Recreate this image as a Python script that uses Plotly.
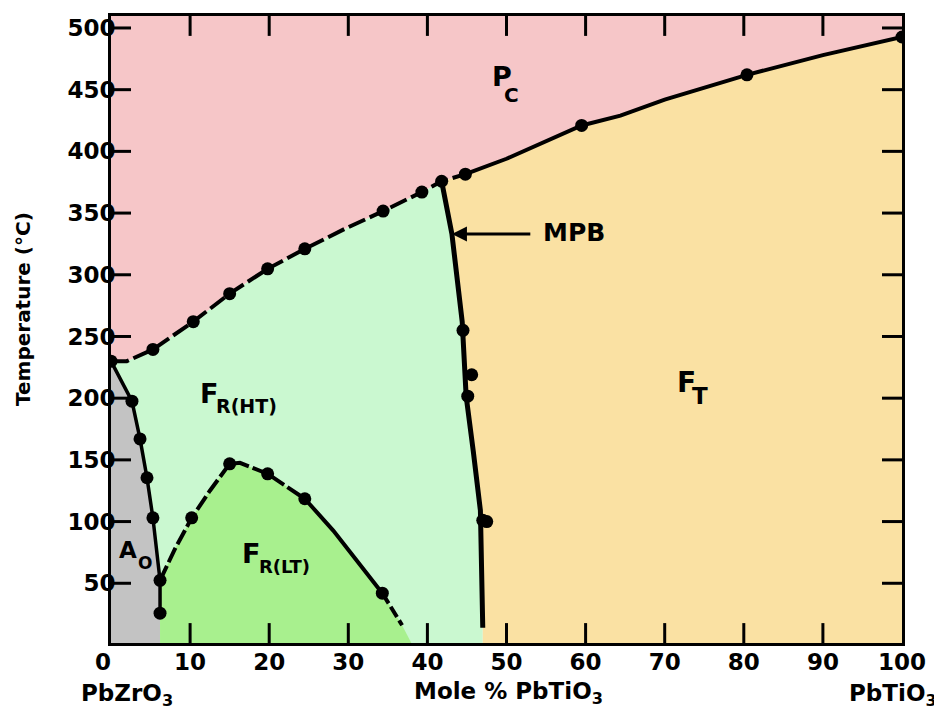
import plotly.graph_objects as go

# ---------------- data (mole % PbTiO3, temperature in °C) ----------------
# Curie line (paraelectric cubic boundary)
curie_x = [0, 2.0, 5.3, 10.4, 15.0, 19.8, 24.5, 29.5, 34.4, 39.3, 41.8, 44.8, 50.0, 59.5, 64.4, 70.0, 80.4, 90.0, 100]
curie_t = [230, 230, 239.5, 262, 284.7, 304.8, 321, 337, 351.6, 367, 375.8, 381.5, 394, 421, 429, 442, 462, 478, 492.7]
# Antiferroelectric orthorhombic boundary
ao_x = [0, 2.65, 3.67, 4.55, 5.3, 5.8, 6.2, 6.2, 6.2]
ao_t = [230, 197.6, 167, 135.5, 103, 76.6, 52.4, 25.8, 0]
# Low-temperature rhombohedral boundary
lt_x = [6.2, 8.1, 10.2, 12.5, 15.0, 16.3, 19.8, 24.5, 28.1, 34.3, 36.8, 38.1]
lt_t = [52.4, 78, 103, 125, 146.8, 147.6, 138.7, 118.5, 92.7, 42, 16, 0]
# Morphotropic phase boundary
mpb_x = [41.8, 43.1, 44.4, 44.9, 45.8, 46.7, 47.0, 47.0]
mpb_t = [375.8, 333, 262, 201.6, 157, 109, 14, 0]

# measured points
curie_pts_x = [0, 5.3, 10.4, 15.0, 19.8, 24.5, 34.4, 39.3, 41.8, 44.8, 59.5, 80.4, 100]
curie_pts_t = [230, 239.5, 262, 284.7, 304.8, 321, 351.6, 367, 375.8, 381.5, 421, 462, 492.7]
ao_pts_x = [2.65, 3.67, 4.55, 5.3, 6.2, 6.2]
ao_pts_t = [197.6, 167, 135.5, 103, 52.4, 25.8]
lt_pts_x = [10.2, 15.0, 19.8, 24.5, 34.3]
lt_pts_t = [103, 146.8, 138.7, 118.5, 42]
mpb_pts_x = [44.5, 45.6, 45.1, 47.0, 47.5]
mpb_pts_t = [255, 219, 201.6, 101, 100]

x_ticks = [0, 10, 20, 30, 40, 50, 60, 70, 80, 90, 100]
x_ticktext = ["0\u00a0\u00a0", "10", "20", "30", "40", "50", "60", "70", "80", "90", "100"]
y_ticks = [50, 100, 150, 200, 250, 300, 350, 400, 450, 500]

# ---------------- style ----------------
X_RANGE = [0, 100]
Y_RANGE = [1.6, 509.7]
TOP = 530
PINK = "#F6C6C8"
LGREEN = "#CAF8D0"
GREEN = "#A8F08E"
GRAY = "#C3C3C3"
TAN = "#FAE1A3"
FONT = "DejaVu Sans"
W, H = 934, 701
ML, MR, MT, MB = 103, 40, 5, 66
PW, PH = W - ML - MR, H - MT - MB
TICK = 20  # px, inward tick length

fig = go.Figure()

def poly(xs, ts, color):
    fig.add_trace(go.Scatter(x=xs, y=ts, mode="lines", fill="toself", fillcolor=color,
                             line=dict(width=0, color=color), hoverinfo="skip", showlegend=False))

# regions
poly(curie_x[:11] + mpb_x[1:] + [0], curie_t[:11] + mpb_t[1:] + [0], LGREEN)        # F_R(HT)
poly(ao_x + [0], ao_t + [0], GRAY)                                                     # A_O
poly(lt_x + [ao_x[-1]], lt_t + [0], GREEN)                                             # F_R(LT)
poly(curie_x + [100, 0], curie_t + [TOP, TOP], PINK)                                  # P_C
poly(curie_x[10:] + [100] + mpb_x[::-1], curie_t[10:] + [0] + mpb_t[::-1], TAN)       # F_T

def line(xs, ts, width=4, dash="solid"):
    fig.add_trace(go.Scatter(x=xs, y=ts, mode="lines", line=dict(color="black", width=width, dash=dash),
                             hoverinfo="skip", showlegend=False))

line(curie_x[:12], curie_t[:12], 4, "18px,5px")
line(curie_x[11:], curie_t[11:], 4)
line(ao_x[:-1], ao_t[:-1], 3.5)
line(lt_x[:8], lt_t[:8], 4, "16px,4px")
line(lt_x[7:10], lt_t[7:10], 4)
line(lt_x[9:11], lt_t[9:11], 4, "12px,4px")
line(mpb_x[:-1], mpb_t[:-1], 5)

for px_, pt_ in [(curie_pts_x, curie_pts_t), (ao_pts_x, ao_pts_t), (lt_pts_x, lt_pts_t), (mpb_pts_x, mpb_pts_t)]:
    fig.add_trace(go.Scatter(x=px_, y=pt_, mode="markers", marker=dict(color="black", size=13),
                             hoverinfo="skip", showlegend=False))

# inward tick marks on all four sides, built from the tick values and the axis ranges
dx = TICK / PW * (X_RANGE[1] - X_RANGE[0])
dy = TICK / PH * (Y_RANGE[1] - Y_RANGE[0])
tx, ty = [], []
for v in x_ticks[1:-1]:
    tx += [v, v, None, v, v, None]
    ty += [Y_RANGE[0], Y_RANGE[0] + dy, None, Y_RANGE[1], Y_RANGE[1] - dy, None]
for v in y_ticks:
    tx += [X_RANGE[0], X_RANGE[0] + dx, None, X_RANGE[1], X_RANGE[1] - dx, None]
    ty += [v, v, None, v, v, None]
fig.add_trace(go.Scatter(x=tx, y=ty, mode="lines", line=dict(color="black", width=3),
                         hoverinfo="skip", showlegend=False, cliponaxis=False))

ann = []
def lab(x, y, text, size, xref="x", yref="y", angle=0):
    ann.append(dict(x=x, y=y, xref=xref, yref=yref, text=text, showarrow=False, textangle=angle,
                    xanchor="center", yanchor="middle",
                    font=dict(family=FONT, size=size, color="black", weight="bold")))

lab(49.4, 460.5, "P", 27)
lab(50.6, 446, "C", 20)
lab(12.45, 204, "F", 27)
lab(17.07, 193.9, "R(HT)", 19)
lab(17.76, 74.2, "F", 27)
lab(21.93, 63.3, "R(LT)", 18)
lab(2.21, 76.6, "A", 23)
lab(4.36, 66.5, "O", 17)
lab(72.7, 212.9, "F", 28)
lab(74.4, 201.5, "T", 23)
lab(58.5, 333.9, "MPB", 25)
# arrow to MPB
ann.append(dict(x=43.1, y=333, ax=53.2, ay=333, xref="x", yref="y", axref="x", ayref="y",
                text="", showarrow=True, arrowhead=2, arrowsize=1, arrowwidth=3, arrowcolor="black"))

lab(-0.111, 0.533, "Temperature (°C)", 20, "paper", "paper", -90)
lab(0.020, -0.083, "PbZrO<sub>3</sub>", 23, "paper", "paper")
lab(0.502, -0.080, "Mole % PbTiO<sub>3</sub>", 23, "paper", "paper")
lab(0.989, -0.083, "PbTiO<sub>3</sub>", 23, "paper", "paper")

axis_common = dict(showgrid=False, zeroline=False, showline=True, linewidth=3, linecolor="black",
                   mirror=True, ticks="", layer="above traces",
                   tickfont=dict(family=FONT, size=23, color="black", weight="bold"))

# the page body adds an 8px offset, so the figure is sized and placed to compensate
fig.update_layout(
    width=W, height=H,
    margin=dict(l=ML, r=MR, t=MT, b=MB),
    paper_bgcolor="white", plot_bgcolor="white",
    xaxis=dict(range=X_RANGE, tickvals=x_ticks, ticktext=x_ticktext, ticklabelstandoff=-4, **axis_common),
    yaxis=dict(range=Y_RANGE, tickvals=y_ticks, ticklabelstandoff=-12, **axis_common),
    annotations=ann,
    showlegend=False,
)

fig.write_html("out.html")
